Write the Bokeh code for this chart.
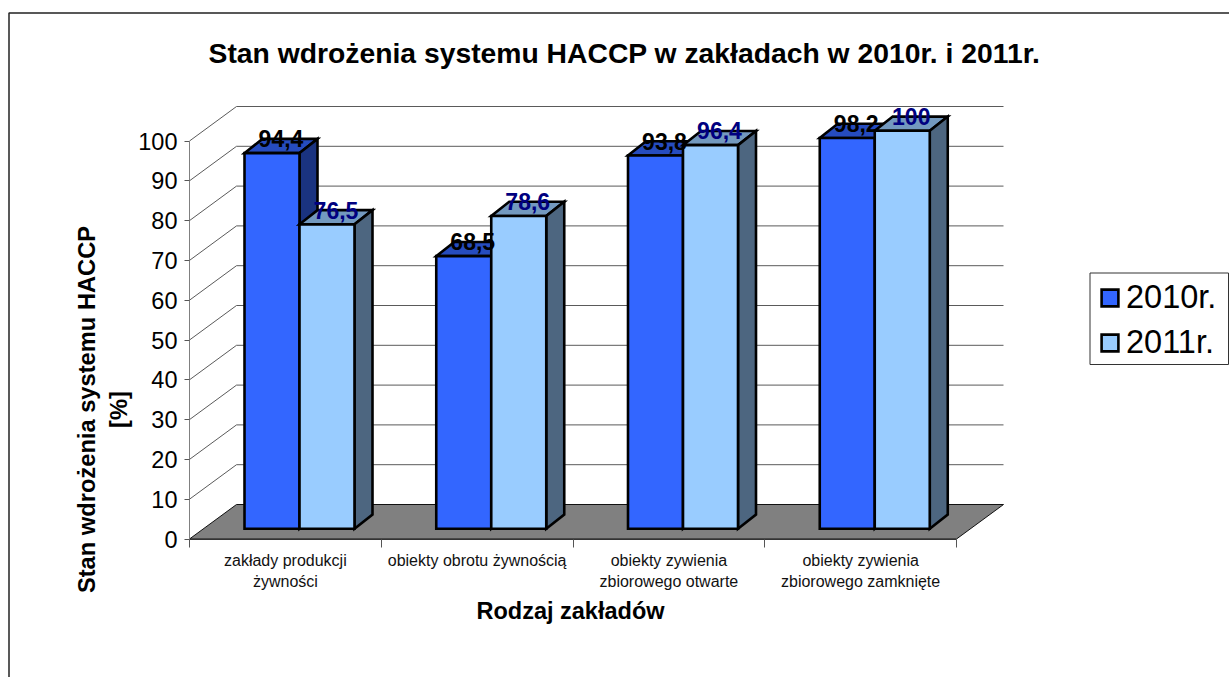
from bokeh.plotting import figure
from bokeh.embed import file_html
from bokeh.resources import INLINE
from bokeh.core.properties import value
from bokeh.models import (ColumnDataSource, FixedTicker, Range1d, Label, Legend, LegendItem)

categories = ["zakłady produkcji\nżywności", "obiekty obrotu żywnością",
              "obiekty zywienia\nzbiorowego otwarte", "obiekty zywienia\nzbiorowego zamknięte"]
values_2010 = [94.4, 68.5, 93.8, 98.2]
values_2011 = [76.5, 78.6, 96.4, 100]
y_ticks = [0, 10, 20, 30, 40, 50, 60, 70, 80, 90, 100]
chart_title = "Stan wdrożenia systemu HACCP w zakładach w 2010r. i 2011r."
y_title = "Stan wdrożenia systemu HACCP\n[%]"
x_title = "Rodzaj zakładów"

FONT = "Liberation Sans"
W, H = 1229, 677
X0, Y0 = 189.0, 538.5          # page position of the front-left corner of the floor
CAT_PX, VAL_PX = 191.75, 3.98
WALL_DX, WALL_DY = 47 / CAT_PX, 34.5 / VAL_PX      # depth of the chart box
BAR_DX, BAR_DY = 18 / CAT_PX, 14.2 / VAL_PX        # depth of one bar
BASE_DX, BASE_DY = 14 / CAT_PX, 10.2 / VAL_PX      # bar front plane vs axis plane
BAR_W = 55 / CAT_PX
FIRST = 41 / CAT_PX
n = len(categories)


def px_x(x):
    return (x - X0) / CAT_PX


def px_y(y):
    return (Y0 - y) / VAL_PX


p = figure(width=W, height=H, output_backend="svg", toolbar_location=None,
           x_range=Range1d(px_x(0), px_x(W)), y_range=Range1d(px_y(H), px_y(0)),
           min_border=0, outline_line_color=None, background_fill_color="white",
           border_fill_color="white")
p.grid.visible = False

# outer chart frame (its right and bottom edges lie beyond the window)
p.line([px_x(8.5), px_x(8.5), px_x(W + 5)], [px_y(H + 5), px_y(12.5), px_y(12.5)],
       line_color="#222222", line_width=1.5)

GRID = "#5a5a5a"
# floor
p.patch([0, n, n + WALL_DX, WALL_DX], [0, 0, WALL_DY, WALL_DY],
        fill_color="#808080", line_color="#111111", line_width=1)
# wall grid
for t in y_ticks[1:]:
    p.line([WALL_DX, n + WALL_DX], [t + WALL_DY, t + WALL_DY], line_color=GRID, line_width=1)
    p.line([0, WALL_DX], [t, t + WALL_DY], line_color=GRID, line_width=1)

series = [
    (values_2010, "#3366FF", "#264CBF", "#1A3380", "#000000", 0),
    (values_2011, "#99CCFF", "#7399BF", "#4D6680", "#000080", 1),
]
legend_items = []
LW = 2.6
for vals, front, top, side, lab, k in series:
    lefts = [i + BASE_DX + FIRST + k * BAR_W for i in range(n)]
    top_xs, top_ys, side_xs, side_ys = [], [], [], []
    for x0, v in zip(lefts, vals):
        x1 = x0 + BAR_W
        yb, yt = BASE_DY, v + BASE_DY
        top_xs.append([x0, x1, x1 + BAR_DX, x0 + BAR_DX])
        top_ys.append([yt, yt, yt + BAR_DY, yt + BAR_DY])
        side_xs.append([x1, x1 + BAR_DX, x1 + BAR_DX, x1])
        side_ys.append([yb, yb + BAR_DY, yt + BAR_DY, yt])
    p.patches(top_xs, top_ys, fill_color=top, line_color="black", line_width=LW, line_join="miter")
    p.patches(side_xs, side_ys, fill_color=side, line_color="black", line_width=LW, line_join="miter")
    src = ColumnDataSource(dict(x=[x + BAR_W / 2 for x in lefts], top=[v + BASE_DY for v in vals],
                                bottom=[BASE_DY] * n))
    r = p.vbar(x="x", top="top", bottom="bottom", width=BAR_W, source=src, fill_color=front,
               line_color="black", line_width=LW, line_join="miter")
    legend_items.append(LegendItem(label=value("2010r." if k == 0 else "2011r."), renderers=[r]))

for vals, front, top, side, lab, k in series:
    lefts = [i + BASE_DX + FIRST + k * BAR_W for i in range(n)]
    p.text(x=[x + BAR_W / 2 + BAR_DX / 2 for x in lefts], y=[v + BASE_DY + BAR_DY for v in vals],
           text=[f"{v:g}".replace(".", ",") for v in vals],
           text_font=value(FONT), text_font_style="bold", text_font_size="23px", text_color=lab,
           text_align="center", text_baseline="middle")

# axes
ax = p.yaxis[0]
ax.fixed_location = 0
ax.ticker = FixedTicker(ticks=y_ticks)
ax.bounds = (0, 100)
ax.axis_line_color = "#808080"
ax.major_tick_line_color = "#555555"
ax.major_tick_out = 5
ax.major_tick_in = 0
ax.minor_tick_out = 0
ax.minor_tick_in = 0
ax.major_label_standoff = 7
ax.major_label_text_font = FONT
ax.major_label_text_font_size = "23.5px"
ax.major_label_text_color = "black"

bx = p.xaxis[0]
bx.fixed_location = 0
bx.ticker = FixedTicker(ticks=[i + 0.5 for i in range(n)], minor_ticks=list(range(n + 1)))
bx.bounds = (0, n)
bx.major_label_overrides = {i + 0.5: c for i, c in enumerate(categories)}
bx.axis_line_color = "#333333"
bx.major_tick_out = 0
bx.major_tick_in = 0
bx.minor_tick_out = 8
bx.minor_tick_in = 0
bx.minor_tick_line_color = "#555555"
bx.major_label_standoff = 5
bx.major_label_text_font = FONT
bx.major_label_text_font_size = "16px"
bx.major_label_text_color = "#111111"
bx.major_label_text_line_height = 1.25

p.add_layout(Label(x=624, y=H - 52, x_units="screen", y_units="screen", text=chart_title,
                   text_align="center", text_baseline="middle", text_font=FONT,
                   text_font_style="bold", text_font_size="28.3px", text_color="black"))
p.add_layout(Label(x=102.5, y=H - 409, x_units="screen", y_units="screen", text=y_title, angle=90,
                   angle_units="deg", text_align="center", text_baseline="middle",
                   text_font=FONT, text_font_style="bold",
                   text_font_size="23.7px", text_color="black", text_line_height=1.22))
p.add_layout(Label(x=570, y=H - 610, x_units="screen", y_units="screen", text=x_title,
                   text_align="center", text_baseline="middle", text_font=FONT,
                   text_font_style="bold", text_font_size="23.5px", text_color="black"))

# legend box, with the legend's swatches and labels set inside it
p.quad(left=[px_x(1089.5)], right=[px_x(1228)], top=[px_y(272.5)], bottom=[px_y(364)],
       fill_color="white", line_color="#333333", line_width=1)
legend = Legend(items=legend_items, location=(1099, H - 361),
                orientation="vertical", glyph_width=21, glyph_height=21, label_text_font=FONT,
                label_text_font_size="32.5px", label_text_color="black", border_line_color=None,
                background_fill_alpha=0, padding=0, spacing=8, margin=0, label_standoff=6)
p.add_layout(legend, "center")

open("out.html", "w").write(file_html(p, INLINE))
